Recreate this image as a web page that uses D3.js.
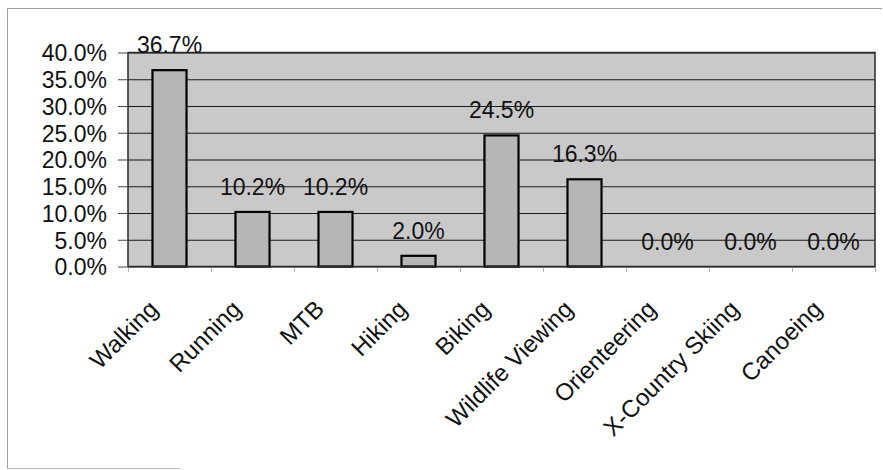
<!DOCTYPE html>
<html>
<head>
<meta charset="utf-8">
<script src="https://cdn.jsdelivr.net/npm/d3@7"></script>
<style>
  html, body { margin: 0; padding: 0; background: #fff; }
  svg { display: block; }
  text { font-family: "Liberation Sans", Arial, sans-serif; fill: #111; }
</style>
</head>
<body>
<svg id="chart" width="883" height="470"></svg>
<script>
const categories = ["Walking", "Running", "MTB", "Hiking", "Biking", "Wildlife Viewing", "Orienteering", "X-Country Skiing", "Canoeing"];
const values = [36.7, 10.2, 10.2, 2.0, 24.5, 16.3, 0.0, 0.0, 0.0];
const yTicks = [0, 5, 10, 15, 20, 25, 30, 35, 40];

const svg = d3.select("#chart");
const plot = { left: 128, right: 875, top: 52.5, bottom: 266.5 };

// outer frame (top, left, bottom)
const frame = svg.append("g").attr("stroke", "#a0a0a0").attr("stroke-width", 1).attr("fill", "none");
frame.append("path").attr("d", "M7.5,468.5 V8.5 H882");
frame.append("path").attr("d", "M7.5,468.5 H180").attr("stroke", "#b8b8b8");

const x = d3.scaleBand().domain(categories)
  .range([plot.left, plot.right]).paddingInner(0.59).paddingOuter(0.295);
const xEdges = d3.scaleLinear().domain([0, categories.length]).range([plot.left, plot.right]);
const y = d3.scaleLinear().domain([0, 40]).range([plot.bottom, plot.top]);

// plot background
svg.append("rect")
  .attr("x", plot.left).attr("y", plot.top)
  .attr("width", plot.right - plot.left).attr("height", plot.bottom - plot.top)
  .attr("fill", "#c9c9c9");

// gridlines
const grid = svg.append("g").attr("transform", `translate(${plot.left},0)`)
  .call(d3.axisLeft(y).tickValues(yTicks).tickSize(-(plot.right - plot.left)).tickFormat(""));
grid.select(".domain").remove();
grid.selectAll("line").attr("stroke", "#1a1a1a").attr("stroke-width", 1.2);

// bars
svg.append("g").selectAll("rect").data(categories).join("rect")
  .attr("x", d => x(d))
  .attr("y", (d, i) => y(values[i]))
  .attr("width", x.bandwidth())
  .attr("height", (d, i) => y(0) - y(values[i]))
  .attr("fill", "#b6b6b6")
  .attr("stroke", "#000").attr("stroke-width", 2.2);

// plot border
svg.append("rect")
  .attr("x", plot.left).attr("y", plot.top)
  .attr("width", plot.right - plot.left).attr("height", plot.bottom - plot.top)
  .attr("fill", "none").attr("stroke", "#2a2a2a").attr("stroke-width", 1.5);

// y axis
const yAxis = svg.append("g").attr("transform", `translate(${plot.left},0)`)
  .call(d3.axisLeft(y).tickValues(yTicks).tickSize(10).tickPadding(11)
    .tickFormat(d => d.toFixed(1) + "%"));
yAxis.select(".domain").remove();
yAxis.selectAll("line").attr("stroke", "#444").attr("stroke-width", 1);
yAxis.selectAll("text").style("font-size", "23px").attr("dy", "0.36em");

// x boundary ticks
const xt = svg.append("g").attr("transform", `translate(0,${plot.bottom})`)
  .call(d3.axisBottom(xEdges).tickValues(d3.range(categories.length + 1)).tickSize(6).tickFormat(""));
xt.select(".domain").remove();
xt.selectAll("line").attr("stroke", "#666").attr("stroke-width", 1).attr("stroke-dasharray", "1,1");

// x category labels
const xAxis = svg.append("g").attr("transform", `translate(0,${plot.bottom})`)
  .call(d3.axisBottom(x).tickSize(0).tickPadding(0));
xAxis.select(".domain").remove();
xAxis.selectAll("text")
  .style("font-size", "24px")
  .attr("text-anchor", "end")
  .attr("dy", 0)
  .attr("transform", "translate(-10,44) rotate(-45)");

// value labels
svg.append("g").selectAll("text").data(categories).join("text")
  .attr("x", d => x(d) + x.bandwidth() / 2)
  .attr("y", (d, i) => y(values[i]) - 17)
  .attr("text-anchor", "middle")
  .style("font-size", "23px")
  .text((d, i) => values[i].toFixed(1) + "%");
</script>
</body>
</html>
